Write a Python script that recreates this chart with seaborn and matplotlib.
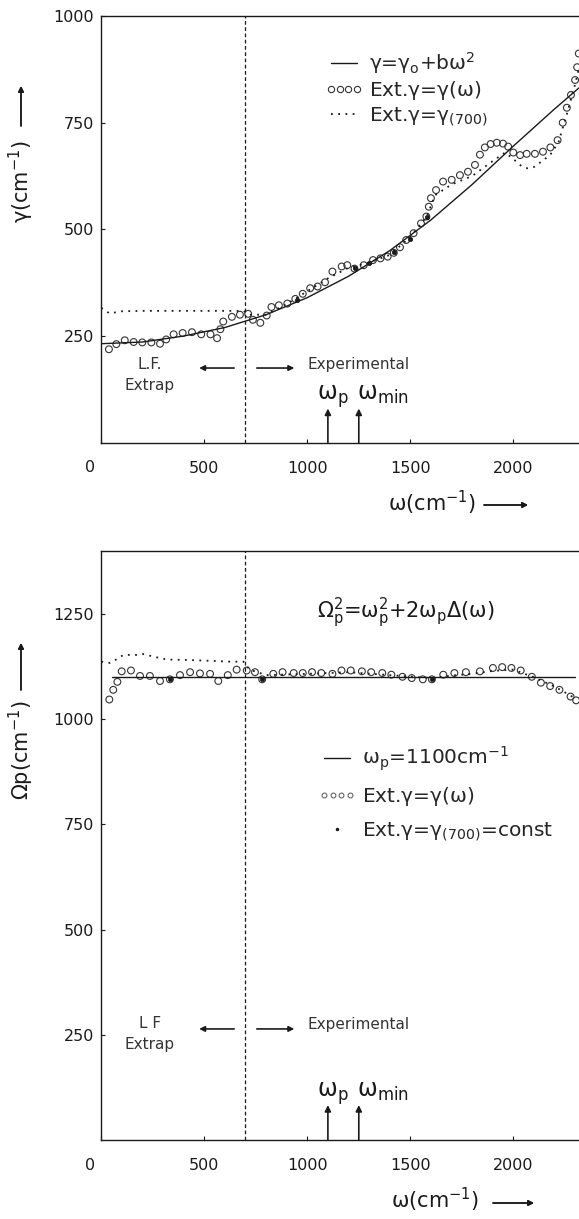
import seaborn as sns
import matplotlib.pyplot as plt
from matplotlib.lines import Line2D
from matplotlib.legend_handler import HandlerLine2D

# ---------- values ----------
omega_cut = 700      # boundary L.F. extrapolation / experimental
omega_p = 1100
omega_min = 1250

x_ticks = [0, 500, 1000, 1500, 2000]
gamma_ticks = [250, 500, 750, 1000]
Omega_ticks = [250, 500, 750, 1000, 1250]

# top panel: damping gamma(omega)
gamma_fit_w = [0, 200, 400, 600, 800, 1000, 1200, 1400, 1600, 1800, 2000, 2200, 2320]
gamma_fit = [232, 236, 250, 270, 300, 340, 390, 450, 522, 605, 695, 782, 832]

gamma_ext_w = [37, 73, 114, 157, 199, 243, 285, 315, 351, 395, 440, 485, 530, 562, 578,
               592, 634, 673, 713, 736, 772, 803, 826, 862, 903, 942, 978, 1014, 1050,
               1086, 1122, 1167, 1194, 1229, 1274, 1319, 1355, 1390, 1420, 1450, 1480,
               1516, 1552, 1578, 1590, 1600, 1625, 1659, 1701, 1741, 1780, 1814, 1838,
               1862, 1890, 1920, 1950, 1975, 2000, 2033, 2065, 2105, 2144, 2180, 2215,
               2240, 2260, 2280, 2300, 2310, 2318]
gamma_ext = [219, 231, 240, 236, 235, 235, 232, 242, 254, 257, 259, 254, 254, 245, 266,
             284, 295, 300, 302, 288, 281, 298, 318, 322, 326, 337, 349, 362, 366,
             376, 401, 413, 416, 408, 416, 428, 432, 436, 445, 458, 475,
             491, 514, 530, 553, 573, 592, 612, 616, 627, 635, 651, 675,
             692, 700, 703, 701, 694, 680, 674, 677, 677, 682, 692, 709,
             750, 785, 815, 850, 880, 912]

gamma_700_w = [0, 40, 100, 200, 300, 400, 500, 600, 690, 720, 800, 900, 1000, 1100,
               1200, 1300, 1400, 1500, 1580, 1620, 1700, 1800, 1900, 1960, 2000, 2040,
               2070, 2100, 2140, 2180, 2220, 2260, 2300, 2320]
gamma_700 = [316, 303, 308, 309, 309, 309, 309, 309, 309, 300, 300, 325, 355, 385,
             410, 422, 440, 482, 530, 580, 605, 625, 660, 680, 665, 648,
             643, 646, 660, 675, 705, 770, 840, 880]

gamma_hit_w = [950, 1230, 1300, 1420, 1500, 1580]
gamma_hit = [334, 410, 420, 448, 478, 530]

# bottom panel: plasma frequency Omega_p(omega)
wp_line_w = [50, 2300]
wp_line = [1100, 1100]

Omega_ext_w = [39, 58, 78, 99, 144, 188, 236, 285, 333, 382, 431, 479, 528, 568, 614,
               657, 706, 746, 781, 835, 880, 934, 978, 1023, 1068, 1122, 1166, 1211,
               1265, 1310, 1364, 1408, 1462, 1507, 1561, 1605, 1660, 1714, 1770, 1838,
               1901, 1946, 1991, 2036, 2090, 2134, 2179, 2224, 2278, 2305]
Omega_ext = [1047, 1070, 1089, 1114, 1116, 1103, 1103, 1091, 1095, 1105, 1112, 1109,
             1108, 1091, 1105, 1118, 1116, 1112, 1095, 1108, 1112, 1110, 1110, 1112,
             1110, 1108, 1116, 1116, 1114, 1112, 1110, 1106, 1101, 1098, 1095, 1095,
             1106, 1110, 1112, 1114, 1122, 1124, 1122, 1116, 1101, 1087, 1079, 1070,
             1054, 1045]

Omega_700_w = [0, 42, 83, 107, 172, 204, 253, 317, 414, 528, 625, 690, 720, 800, 1000,
               1200, 1400, 1600, 1700, 1800, 1900, 2000, 2100, 2200, 2300]
Omega_700 = [1137, 1134, 1145, 1153, 1153, 1155, 1149, 1142, 1141, 1139, 1137, 1137,
             1118, 1105, 1108, 1112, 1105, 1098, 1104, 1108, 1115, 1118, 1100, 1078, 1050]

Omega_hit_w = [333, 781, 1605]
Omega_hit = [1095, 1095, 1095]

# ---------- style ----------
sns.set_style('ticks')
plt.rcParams['font.family'] = ['DejaVu Sans']
plt.rcParams['mathtext.fontset'] = 'dejavusans'
plt.rcParams['mathtext.default'] = 'regular'

ink = '#1a1a1a'
dotted = (0, (1, 3))
W, H = 579, 1219

fig = plt.figure(figsize=(5.79, 12.19), dpi=100)
ax1 = fig.add_axes([101.3 / W, 1 - 442.7 / H, 1 - 101.3 / W, (442.7 - 16) / H])
ax2 = fig.add_axes([101.3 / W, 1 - 1140 / H, 1 - 101.3 / W, (1140 - 551) / H])


def setup_axes(ax, ymax, yticks):
    ax.set_xlim(0, 2319)
    ax.set_ylim(0, ymax)
    ax.set_xticks(x_ticks)
    ax.set_xticklabels([''] + [str(t) for t in x_ticks[1:]])
    ax.set_yticks(yticks)
    ax.tick_params(axis='x', direction='in', length=3, pad=13, labelsize=11.5, colors=ink)
    ax.tick_params(axis='y', direction='in', length=3, pad=5, labelsize=11.5, colors=ink)
    ax.spines['right'].set_visible(False)
    for s in ['left', 'top', 'bottom']:
        ax.spines[s].set_linewidth(1.0)
        ax.spines[s].set_color(ink)
    ax.set_xlabel('')
    ax.set_ylabel('')
    # the "0" label sits left of the corner
    ax.annotate('0', xy=(0, 0), xytext=(-11, -25), textcoords='offset pixels',
                ha='center', va='center', fontsize=11.5, color=ink)
    ax.axvline(omega_cut, ls=(0, (3, 2)), lw=0.9, color=ink)


def omega_marks(ax, tip):
    for w in [omega_p, omega_min]:
        ax.annotate('', xy=(w, tip), xytext=(w, 0),
                    arrowprops=dict(arrowstyle='-|>', lw=1.2, color=ink,
                                    mutation_scale=9, shrinkA=0, shrinkB=0))
    ax.annotate(r'$\omega_p$', xy=(omega_p, 0), xytext=(-11, 43), textcoords='offset pixels',
                ha='left', va='baseline', fontsize=17, color=ink)
    ax.annotate(r'$\omega_{min}$', xy=(omega_min, 0), xytext=(-2, 43), textcoords='offset pixels',
                ha='left', va='baseline', fontsize=17, color=ink)


def region_marks(ax, y, lf_text, lf_y):
    arrow = dict(arrowstyle='-|>', lw=1.2, color=ink, mutation_scale=8, shrinkA=0, shrinkB=0)
    ax.annotate('', xy=(475, y), xytext=(645, y), arrowprops=arrow)
    ax.annotate('', xy=(937, y), xytext=(755, y), arrowprops=arrow)
    ax.text(236, lf_y, lf_text, ha='center', va='center', fontsize=11,
            color='#333333', linespacing=1.5)
    ax.text(1000, y + 8 * ax.get_ylim()[1] / 1000, 'Experimental', ha='left', va='center',
            fontsize=11, color='#333333')


# ---------- top panel ----------
setup_axes(ax1, 1000, gamma_ticks)
sns.lineplot(x=gamma_fit_w, y=gamma_fit, ax=ax1, color=ink, lw=1.0)
sns.lineplot(x=gamma_700_w, y=gamma_700, ax=ax1, color=ink, lw=1.3, linestyle=dotted)
sns.scatterplot(x=gamma_ext_w, y=gamma_ext, ax=ax1, marker='o', s=24,
                facecolors='none', edgecolor='#333333', linewidth=0.8)
sns.scatterplot(x=gamma_hit_w, y=gamma_hit, ax=ax1, marker='o', s=10,
                color=ink, edgecolor=ink, linewidth=0.5)
omega_marks(ax1, 80)
region_marks(ax1, 175, 'L.F.\nExtrap', 158)

h1 = [Line2D([], [], color=ink, lw=1.0),
      Line2D([], [], ls='none', marker='o', ms=4.5, mfc='none', mec='#333333', mew=0.8),
      Line2D([], [], color=ink, lw=1.3, ls=dotted)]
lab1 = [r'$\gamma$=$\gamma_o$+b$\omega^2$', r'Ext.$\gamma$=$\gamma(\omega)$',
        r'Ext.$\gamma$=$\gamma_{(700)}$']
ax1.legend(h1, lab1, loc='upper left', bbox_to_anchor=(325 / W, 1 - 50 / H),
           bbox_transform=fig.transFigure, frameon=False, fontsize=14.5, numpoints=4,
           handlelength=1.9, handletextpad=0.3, labelspacing=0.17, borderpad=0,
           borderaxespad=0)

# ---------- bottom panel ----------
setup_axes(ax2, 1400, Omega_ticks)
sns.lineplot(x=wp_line_w, y=wp_line, ax=ax2, color=ink, lw=1.0)
sns.lineplot(x=Omega_700_w, y=Omega_700, ax=ax2, color=ink, lw=1.3, linestyle=dotted)
sns.scatterplot(x=Omega_ext_w, y=Omega_ext, ax=ax2, marker='o', s=24,
                facecolors='none', edgecolor='#333333', linewidth=0.8)
sns.scatterplot(x=Omega_hit_w, y=Omega_hit, ax=ax2, marker='o', s=10,
                color=ink, edgecolor=ink, linewidth=0.5)
omega_marks(ax2, 83)
region_marks(ax2, 264, 'L F\nExtrap', 252)
ax2.text(1480, 1252, r'$\Omega_p^2$=$\omega_p^2$+2$\omega_p\Delta(\omega)$',
         ha='center', va='center', fontsize=15, color=ink)

h2 = [Line2D([], [], color=ink, lw=1.0),
      Line2D([], [], ls='none', marker='o', ms=3.5, mfc='none', mec='#555555', mew=0.7),
      Line2D([], [], ls='none', marker='.', ms=3, color=ink)]
lab2 = [r'$\omega_p$=1100cm$^{-1}$', r'Ext.$\gamma$=$\gamma(\omega)$',
        r'Ext.$\gamma$=$\gamma_{(700)}$=const']
ax2.legend(h2, lab2, loc='upper left', bbox_to_anchor=(318 / W, 1 - 745 / H),
           bbox_transform=fig.transFigure, frameon=False, fontsize=14.5, numpoints=4,
           handlelength=1.9, handletextpad=0.3, labelspacing=0.6, borderpad=0,
           borderaxespad=0, handler_map={h2[2]: HandlerLine2D(numpoints=1)})

# ---------- axis labels with arrows ----------
arr = dict(arrowstyle='-|>', lw=1.1, color=ink, mutation_scale=8, shrinkA=0, shrinkB=0)
fig.text(21 / W, 1 - 181 / H, r'$\gamma$(cm$^{-1}$)', rotation=90, ha='center',
         va='center', fontsize=15, color=ink)
fig.text(21 / W, 1 - 750 / H, r'$\Omega$p(cm$^{-1}$)', rotation=90, ha='center',
         va='center', fontsize=15, color=ink)
fig.text(432 / W, 1 - 503 / H, r'$\omega$(cm$^{-1}$)', ha='center', va='center',
         fontsize=15, color=ink)
fig.text(435 / W, 1 - 1200 / H, r'$\omega$(cm$^{-1}$)', ha='center', va='center',
         fontsize=15, color=ink)
for (x0, y0, x1, y1) in [(21, 126, 21, 86), (21, 690, 21, 643),
                         (484, 505, 528, 505), (493, 1203, 534, 1203)]:
    fig.add_artist(plt.annotate('', xy=(x1 / W, 1 - y1 / H), xytext=(x0 / W, 1 - y0 / H),
                                xycoords='figure fraction', textcoords='figure fraction',
                                arrowprops=arr))

fig.savefig('out.png', dpi=100, facecolor='white')
